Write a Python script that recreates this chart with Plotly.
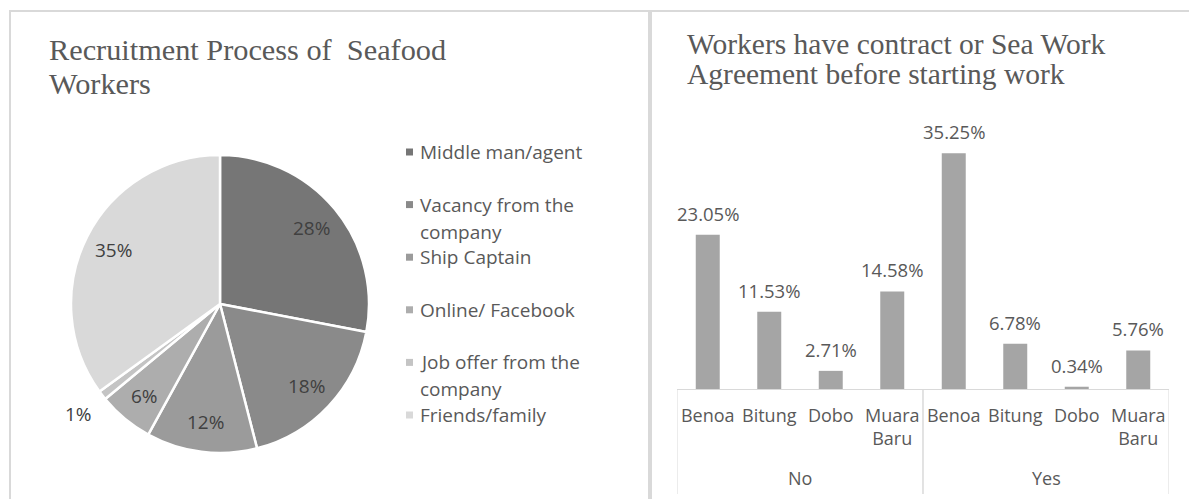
import math

import plotly.graph_objects as go

W, H = 1189, 499

# ---- data -------------------------------------------------------------
pie_labels = [
    "Middle man/agent",
    "Vacancy from the<br>company",
    "Ship Captain",
    "Online/ Facebook",
    "Job offer from the<br>company",
    "Friends/family",
]
pie_values = [28, 18, 12, 6, 1, 35]
pie_colors = ["#767676", "#8a8a8a", "#9b9b9b", "#adadad", "#c4c4c4", "#d9d9d9"]

bar_groups = ["No", "No", "No", "No", "Yes", "Yes", "Yes", "Yes"]
bar_cities = ["Benoa", "Bitung", "Dobo", "Muara<br>Baru",
              "Benoa", "Bitung", "Dobo", "Muara<br>Baru"]
bar_values = [23.05, 11.53, 2.71, 14.58, 35.25, 6.78, 0.34, 5.76]

TEXT = "#595959"
GRID = "#d9d9d9"
SANS = "Open Sans"
SERIF = "Liberation Serif"


def px(x):
    return x / W


def py(y):
    return 1 - y / H


fig = go.Figure()

# ---- pie --------------------------------------------------------------
cx, cy, r = 220, 304, 149
fig.add_trace(go.Pie(
    labels=pie_labels, values=pie_values, sort=False, direction="clockwise",
    rotation=0, textinfo="none", showlegend=False,
    marker=dict(colors=pie_colors, line=dict(color="white", width=2.5)),
    domain=dict(x=[px(cx - r), px(cx + r)], y=[py(cy + r), py(cy - r)]),
    hoverinfo="label+percent",
))

annotations = []
total = sum(pie_values)
cum = 0
for v in pie_values:
    mid = (cum + v / 2) / total * 2 * math.pi
    cum += v
    rf = 0.8 if v >= 3 else 1.2
    annotations.append(dict(
        x=px(cx + rf * r * math.sin(mid)), y=py(cy - rf * r * math.cos(mid)),
        xref="paper", yref="paper", text=f"{v}%", showarrow=False,
        xanchor="center", yanchor="middle",
        font=dict(family=SANS, size=19, color="#404040"),
    ))

# manual legend (Excel-style evenly spaced slots, wrapped lines 27px apart)
for i, (lab, col) in enumerate(zip(pie_labels, pie_colors)):
    yc = 152 + 52.6 * i
    fig.add_shape(type="rect", xref="paper", yref="paper",
                  x0=px(406), x1=px(413), y0=py(yc + 3.5), y1=py(yc - 3.5),
                  fillcolor=col, line=dict(width=0))
    for j, line in enumerate(lab.split("<br>")):
        annotations.append(dict(
            x=px(418), y=py(yc + 27 * j), xref="paper", yref="paper",
            text=line, xanchor="left", yanchor="middle", showarrow=False,
            font=dict(family=SANS, size=19, color=TEXT),
        ))

# ---- bars -------------------------------------------------------------
xs = list(range(len(bar_values)))
fig.add_trace(go.Bar(
    x=xs, y=bar_values, marker=dict(color="#a5a5a5", line=dict(width=0)),
    width=0.39, showlegend=False, xaxis="x", yaxis="y",
    hovertemplate="%{y:.2f}%<extra></extra>",
))
for x, v in zip(xs, bar_values):
    annotations.append(dict(
        x=x, y=v, xref="x", yref="y", text=f"{v:.2f}%", showarrow=False,
        xanchor="center", yanchor="bottom", yshift=7,
        font=dict(family=SANS, size=18.5, color=TEXT),
    ))

groups = []
for i, g in enumerate(bar_groups):
    if not groups or groups[-1][0] != g:
        groups.append([g, i, i])
    else:
        groups[-1][2] = i
for g, a, b in groups:
    annotations.append(dict(
        x=(a + b) / 2, y=py(478), xref="x", yref="paper", text=g,
        xanchor="center", yanchor="middle",
        showarrow=False, font=dict(family=SANS, size=18, color=TEXT),
    ))
    for edge in (a - 0.5, b + 0.5):
        fig.add_shape(type="line", xref="x", yref="paper",
                      x0=edge, x1=edge, y0=py(389), y1=py(494),
                      line=dict(color=GRID, width=1))

# ---- titles -----------------------------------------------------------
for text, x, y, size in [
    ("Recruitment Process of  Seafood", 47, 50, 30.3),
    ("Workers", 47, 84, 30.3),
    ("Workers have contract or Sea Work", 685, 44, 29.5),
    ("Agreement before starting work", 685, 74, 29.5),
]:
    annotations.append(dict(
        x=px(x), y=py(y), xref="paper", yref="paper", text=text,
        xanchor="left", yanchor="middle", showarrow=False,
        font=dict(family=SERIF, size=size, color=TEXT),
    ))

# ---- panel borders ----------------------------------------------------
for x0, y0, x1, y1, w in [
    (10, 11, 10, H, 2),
    (650, 11, 650, H, 4),
    (9, 11, W, 11, 2),
]:
    fig.add_shape(type="line", xref="paper", yref="paper",
                  x0=px(x0), y0=py(y0), x1=px(x1), y1=py(y1),
                  line=dict(color=GRID, width=w))

bar_px_per_unit = 6.69
y_top = 0.76
fig.update_layout(
    width=W, height=H, autosize=False,
    margin=dict(l=0, r=0, t=0, b=0),
    paper_bgcolor="white", plot_bgcolor="white",
    annotations=annotations,
    xaxis=dict(
        domain=[px(677), px(1169)], range=[-0.5, len(xs) - 0.5],
        tickvals=xs, ticktext=bar_cities, showgrid=False, zeroline=False,
        showline=True, linecolor=GRID, linewidth=1, ticks="",
        tickfont=dict(family=SANS, size=18, color=TEXT),
        ticklabelstandoff=10,
    ),
    yaxis=dict(
        domain=[py(389), y_top],
        range=[0, (389 - (1 - y_top) * H) / bar_px_per_unit],
        visible=False,
    ),
)

fig.write_html(
    "out.html",
    config={"displayModeBar": False},
    post_script="document.body.style.margin='0';",
)
